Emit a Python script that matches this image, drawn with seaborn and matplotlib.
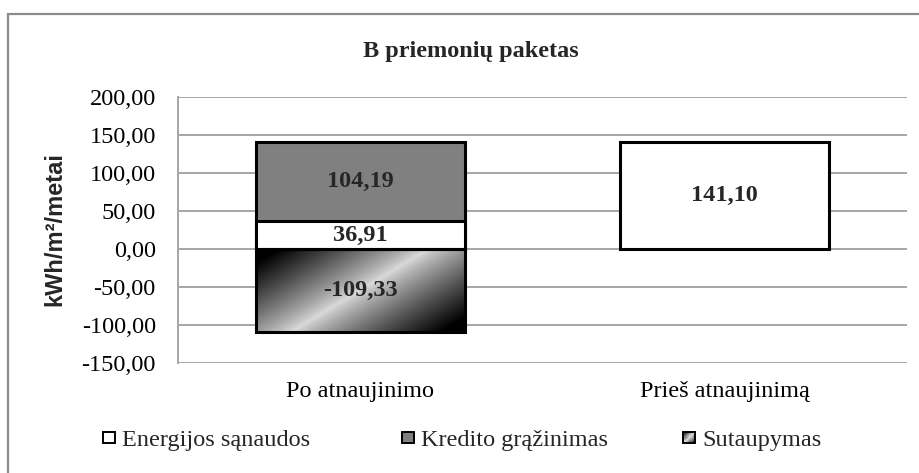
import numpy as np
import pandas as pd
import matplotlib
matplotlib.use("Agg")
import matplotlib.pyplot as plt
import seaborn as sns
from matplotlib.patches import Rectangle, Patch
from matplotlib.legend_handler import HandlerBase
from matplotlib.ticker import FuncFormatter
from matplotlib.colors import LinearSegmentedColormap

# ---------------- data ----------------
categories = ["Po atnaujinimo", "Prieš atnaujinimą"]
energijos = [36.91, 141.10]
kredito = [104.19, np.nan]
sutaupymas = [-109.33, np.nan]
series_names = ["Energijos sąnaudos", "Kredito grąžinimas", "Sutaupymas"]
y_ticks = [-150, -100, -50, 0, 50, 100, 150, 200]
title = "B priemonių paketas"
y_label = "kWh/m²/metai"

# ---------------- style ----------------
sns.set_theme(style="white")
plt.rcParams["font.family"] = ["Liberation Serif", "DejaVu Serif"]
FS = 17.5
GRID = "#a6a6a6"
KRED = "#808080"


def fmt(v):
    return f"{v:.2f}".replace(".", ",")


df = pd.DataFrame({"cat": categories, "E": energijos, "K": kredito, "S": sutaupymas})
df["EK"] = df["E"] + df["K"]

fig = plt.figure(figsize=(9.2, 4.73), dpi=100)
ax = fig.add_axes([178 / 920, 1 - 363 / 473, (907 - 178) / 920, (363 - 97) / 473])

W = 0.573
common = dict(x="cat", order=categories, ax=ax, width=W, errorbar=None,
              saturation=1, edgecolor="black", linewidth=2.2)
# stacked (positive part): Kredito on top of Energijos
sns.barplot(data=df, y="EK", color=KRED, **common)
sns.barplot(data=df, y="E", color="white", **common)
# negative part: Sutaupymas (gradient fill)
sns.barplot(data=df, y="S", color="white", **common)

sut_patch = ax.containers[-1][0]
bb = sut_patch.get_bbox()
x0, x1 = bb.x0, bb.x1
ylo, yhi = min(bb.y0, bb.y1), max(bb.y0, bb.y1)
n = 300
u = np.linspace(0, 1, n)[None, :]
v = np.linspace(0, 1, n)[:, None]
t = 0.6 * u + 0.4 * v
val = np.clip(np.abs(2 * t - 1) * 1.15, 0, 1) ** 0.85
cmap = LinearSegmentedColormap.from_list("g", ["#dadada", "#000000"])
im = ax.imshow(val, extent=[x0, x1, ylo, yhi], origin="upper", aspect="auto",
               cmap=cmap, vmin=0, vmax=1, zorder=sut_patch.get_zorder() - 0.01,
               interpolation="bilinear")
im.set_clip_path(sut_patch)
sut_patch.set_facecolor("none")

# value labels
for i in range(len(categories)):
    e = energijos[i]
    k = kredito[i]
    s = sutaupymas[i]
    ax.text(i, e / 2, fmt(e), ha="center", va="center", fontsize=FS, weight="bold", zorder=10)
    if not np.isnan(k):
        ax.text(i, e + k / 2, fmt(k), ha="center", va="center", fontsize=FS, weight="bold", zorder=10)
    if not np.isnan(s):
        ax.text(i, s / 2, fmt(s), ha="center", va="center", fontsize=FS, weight="bold", zorder=10)

# axes
ax.set_xlim(-0.5, 1.5)
ax.set_ylim(-150, 200)
ax.set_yticks(y_ticks)
ax.yaxis.set_major_formatter(FuncFormatter(lambda v, p: fmt(v)))
ax.set_xlabel("")
ax.set_ylabel("")
ax.set_axisbelow(True)
ax.yaxis.grid(True, color=GRID, lw=1.4)
ax.xaxis.grid(False)
for sp in ["top", "right", "bottom"]:
    ax.spines[sp].set_visible(False)
ax.spines["left"].set_color(GRID)
ax.spines["left"].set_linewidth(1.4)
ax.tick_params(axis="y", length=0, pad=16, labelsize=FS, colors="black")
ax.tick_params(axis="x", length=0, pad=13, labelsize=FS, colors="black")
ax.set_facecolor("white")

# title and y label
fig.text(471 / 920, 1 - 51 / 473, title, ha="center", va="center", fontsize=FS, weight="bold")
fig.text(55 / 920, 1 - 229 / 473, y_label, ha="center", va="center", rotation=90,
         fontsize=17, weight="bold", family=["Liberation Sans", "DejaVu Sans"])

# outer chart frame
fig.add_artist(Rectangle((8 / 920, -0.1), 1.2, 1 - 14 / 473 + 0.1, transform=fig.transFigure,
                         fill=False, edgecolor="#8c8c8c", lw=1.6, clip_on=False))


# legend
class SquareHandler(HandlerBase):
    def __init__(self, kind):
        super().__init__()
        self.kind = kind

    def create_artists(self, legend, orig_handle, xdescent, ydescent, width, height, fontsize, trans):
        s = 8.6
        bx = -xdescent + width - s
        by = -ydescent + (height - s) / 2
        arts = []
        if self.kind == "grad":
            m = 10
            for i in range(m):
                for j in range(m):
                    tt = (i + j + 1) / (2 * m)
                    vv = min(1.0, abs(2 * tt - 1) * 1.0)
                    c = cmap(vv)
                    arts.append(Rectangle((bx + i * s / m, by + (m - 1 - j) * s / m), s / m, s / m,
                                          facecolor=c, edgecolor="none", transform=trans))
            arts.append(Rectangle((bx, by), s, s, facecolor="none", edgecolor="black", lw=1.4,
                                  transform=trans))
        else:
            fc = "white" if self.kind == "white" else KRED
            arts.append(Rectangle((bx, by), s, s, facecolor=fc, edgecolor="black", lw=1.4,
                                  transform=trans))
        return arts


kinds = ["white", "gray", "grad"]
starts = [103, 402, 683]
for name, kind, xs in zip(series_names, kinds, starts):
    h = Patch(label=name)
    fig.legend(handles=[h], labels=[name], handler_map={h: SquareHandler(kind)},
               loc="center left", bbox_to_anchor=(xs / 920, 1 - 440 / 473),
               frameon=False, fontsize=FS, handlelength=0.5, handleheight=0.7,
               handletextpad=0.3, borderpad=0, borderaxespad=0)

fig.savefig("out.png", dpi=100)
